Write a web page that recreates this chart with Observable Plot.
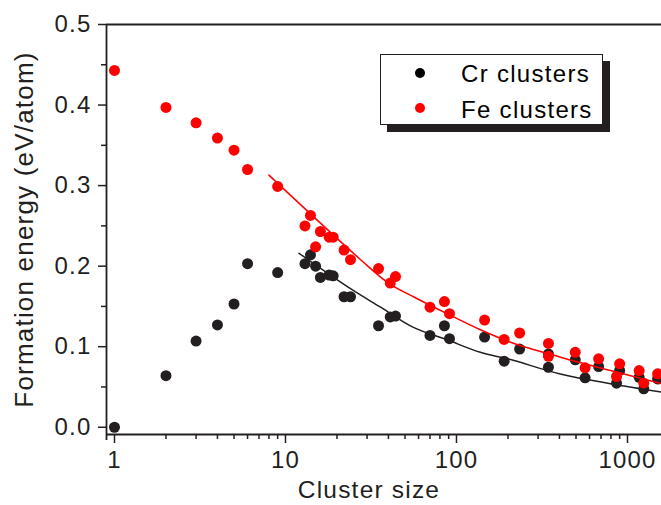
<!DOCTYPE html>
<html>
<head>
<meta charset="utf-8">
<script src="https://cdn.jsdelivr.net/npm/d3@7"></script>
<script src="https://cdn.jsdelivr.net/npm/@observablehq/plot@0.6"></script>
<style>
  html, body { margin: 0; padding: 0; background: #fff; overflow: hidden; }
  #chart { position: relative; width: 661px; height: 505px; }
  .legend {
    position: absolute; left: 380px; top: 54px; width: 221px; height: 69px;
    border: 1px solid #231f20; background: #fff; box-shadow: 7px 7px 0 #231f20;
  }
  .legend svg { display: block; }
  .legend text { font-family: "Liberation Sans", Arial, sans-serif; font-size: 24px; letter-spacing: 1.3px; fill: #000; }
</style>
</head>
<body>
<div id="chart"></div>
<script>
// Cr clusters: cluster size and formation energy (eV/atom)
const crSize = [1, 2, 3, 4, 5, 6, 9, 13, 14, 15, 16, 18, 19, 22, 24, 35, 41, 44, 70, 85, 91,
  146, 190, 234, 345, 345, 495, 565, 678, 900, 863, 1170, 1245, 1500];
const crEnergy = [0.000, 0.064, 0.107, 0.127, 0.153, 0.203, 0.192, 0.203, 0.214, 0.200, 0.186, 0.189, 0.188,
  0.162, 0.162, 0.126, 0.137, 0.138, 0.114, 0.126, 0.110, 0.112, 0.082, 0.097, 0.091, 0.0745,
  0.0837, 0.0614, 0.0754, 0.0706, 0.0547, 0.062, 0.0477, 0.060];

// Fe clusters
const feSize = [1, 2, 3, 4, 5, 6, 9, 13, 14, 15, 16, 18, 19, 22, 24, 35, 41, 44, 70, 85, 91,
  146, 190, 234, 345, 345, 495, 565, 678, 900, 863, 1170, 1245, 1500];
const feEnergy = [0.443, 0.397, 0.378, 0.359, 0.344, 0.320, 0.299, 0.250, 0.263, 0.224, 0.243, 0.236, 0.236,
  0.220, 0.208, 0.197, 0.179, 0.187, 0.149, 0.156, 0.141, 0.133, 0.109, 0.117, 0.104, 0.088,
  0.093, 0.0738, 0.085, 0.0788, 0.063, 0.0704, 0.0547, 0.0663];

// Fitted curves
const crFitSize = [12, 24, 36, 56, 88, 138, 207, 405, 796, 1600];
const crFitEnergy = [0.216, 0.172, 0.149, 0.124, 0.1086, 0.093, 0.084, 0.066, 0.054, 0.0435];
const feFitSize = [8, 27.5, 40, 56, 88, 138, 207, 405, 796, 1600];
const feFitEnergy = [0.313, 0.208, 0.179, 0.162, 0.141, 0.121, 0.1056, 0.087, 0.0704, 0.054];

// Axes
const xDomain = [0.898, 1581];
const yDomain = [-0.009, 0.5];
const xTicks = [1, 10, 100, 1000];
const xMinorTicks = [2, 3, 4, 5, 6, 7, 8, 9, 20, 30, 40, 50, 60, 70, 80, 90, 200, 300, 400, 500, 600, 700, 800, 900];
const yTicks = [0, 0.1, 0.2, 0.3, 0.4, 0.5];
const yMinorTicks = [0.05, 0.15, 0.25, 0.35, 0.45];

const ink = "#231f20";
const red = "#ff0000";

const cr = crSize.map((s, i) => ({size: s, energy: crEnergy[i]}));
const fe = feSize.map((s, i) => ({size: s, energy: feEnergy[i]}));
const crFit = crFitSize.map((s, i) => ({size: s, energy: crFitEnergy[i]}));
const feFit = feFitSize.map((s, i) => ({size: s, energy: feFitEnergy[i]}));

const chart = Plot.plot({
  width: 661,
  height: 505,
  marginLeft: 106,
  marginRight: 0,
  marginTop: 24,
  marginBottom: 71,
  style: {
    fontFamily: "'Liberation Sans', Arial, sans-serif",
    fontSize: "24px",
    letterSpacing: "1.2px",
    color: ink,
    background: "#fff",
    overflow: "hidden"
  },
  x: {type: "log", domain: xDomain},
  y: {domain: yDomain},
  marks: [
    // frame lines
    Plot.ruleY([yDomain[1]], {stroke: ink, strokeWidth: 1.8}),
    Plot.ruleY([yDomain[0]], {stroke: ink, strokeWidth: 1.8}),
    Plot.ruleX([xDomain[0]], {stroke: ink, strokeWidth: 1.8, insetBottom: -6}),
    // y axis
    Plot.axisY({ticks: yTicks, tickFormat: d3.format(".1f"), tickSize: 8, tickPadding: 7, label: null, strokeWidth: 1.5}),
    Plot.axisY({ticks: yMinorTicks, tickFormat: () => "", tickSize: 5, label: null, strokeWidth: 1.5}),
    // x axis
    Plot.axisX({ticks: xTicks, tickFormat: d => String(d), tickSize: 9, tickPadding: 7, label: null, strokeWidth: 1.5}),
    Plot.axisX({ticks: xMinorTicks, tickFormat: () => "", tickSize: 5, label: null, strokeWidth: 1.5}),
    // axis titles
    Plot.text(["Formation energy (eV/atom)"], {
      frameAnchor: "left", textAnchor: "middle", lineAnchor: "middle",
      rotate: -90, dx: -82, fontSize: 26, fill: ink
    }),
    Plot.text(["Cluster size"], {
      frameAnchor: "bottom", textAnchor: "middle", lineAnchor: "middle",
      dx: -15, dy: 56, fontSize: 24.5, fill: ink
    }),
    // data
    Plot.dot(cr, {x: "size", y: "energy", r: 5.5, fill: ink, clip: true}),
    Plot.dot(fe, {x: "size", y: "energy", r: 5.5, fill: red, clip: true}),
    Plot.line(crFit, {x: "size", y: "energy", stroke: ink, strokeWidth: 1.5, curve: "catmull-rom", clip: true}),
    Plot.line(feFit, {x: "size", y: "energy", stroke: red, strokeWidth: 1.5, curve: "catmull-rom", clip: true})
  ]
});

const root = document.getElementById("chart");
root.appendChild(chart);

// Legend box with drop shadow
const legend = document.createElement("div");
legend.className = "legend";
legend.innerHTML = `
<svg width="221" height="69">
  <circle cx="39" cy="18" r="5" fill="#000"></circle>
  <text x="80" y="27">Cr clusters</text>
  <circle cx="39" cy="53" r="5" fill="${red}"></circle>
  <text x="80" y="62.5">Fe clusters</text>
</svg>`;
root.appendChild(legend);
</script>
</body>
</html>
